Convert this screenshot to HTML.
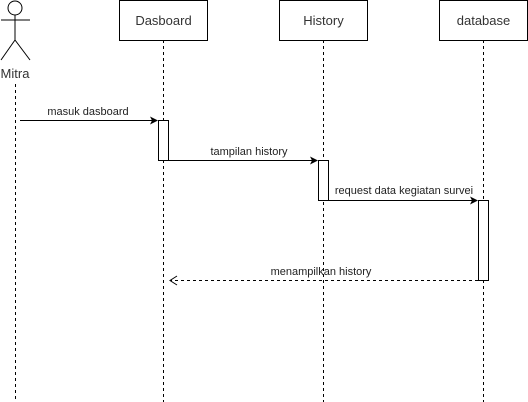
<!DOCTYPE html>
<html><head><style>body{margin:0;background:#fff}svg{display:block}</style></head><body>
<svg width="528" height="402" xmlns="http://www.w3.org/2000/svg" font-family="Liberation Sans, sans-serif">
<g stroke="#000" fill="none" stroke-width="1">
<circle cx="15" cy="8" r="7" fill="#fff"/>
<line x1="15" y1="15" x2="15" y2="40"/>
<line x1="1" y1="20" x2="30" y2="20"/>
<line x1="15" y1="40" x2="1" y2="60"/>
<line x1="15" y1="40" x2="30" y2="60"/>
</g>
<text x="15" y="78" font-size="13" text-anchor="middle" fill="#333">Mitra</text>
<g stroke="#000" stroke-dasharray="3,3">
<line x1="15.5" y1="84" x2="15.5" y2="402"/>
<line x1="163.5" y1="40" x2="163.5" y2="402"/>
<line x1="323.5" y1="40" x2="323.5" y2="402"/>
<line x1="483.5" y1="40" x2="483.5" y2="402"/>
</g>
<g stroke="#000" fill="#fff">
<rect x="119.5" y="0.5" width="88" height="40"/>
<rect x="279.5" y="0.5" width="88" height="40"/>
<rect x="439.5" y="0.5" width="88" height="40"/>
<rect x="158.5" y="120.5" width="10" height="40"/>
<rect x="318.5" y="160.5" width="10" height="40"/>
<rect x="478.5" y="200.5" width="10" height="80"/>
</g>
<g font-size="13" text-anchor="middle" fill="#333">
<text x="163.5" y="25">Dasboard</text>
<text x="323.5" y="25">History</text>
<text x="483.5" y="25">database</text>
</g>
<g stroke="#000">
<line x1="20" y1="120.5" x2="152" y2="120.5"/>
<line x1="168" y1="160.5" x2="312" y2="160.5"/>
<line x1="328" y1="200.5" x2="472" y2="200.5"/>
<line x1="478" y1="280.5" x2="171" y2="280.5" stroke-dasharray="3,3"/>
<polyline points="177,276 170,280.5 177,285" fill="none"/>
</g>
<g fill="#000">
<polygon points="158,120.5 150,116.5 152,120.5 150,124.5"/>
<polygon points="318,160.5 310,156.5 312,160.5 310,164.5"/>
<polygon points="478,200.5 470,196.5 472,200.5 470,204.5"/>
</g>
<g font-size="11" text-anchor="middle" fill="#222">
<text x="88" y="115">masuk dasboard</text>
<text x="249" y="155">tampilan history</text>
<text x="404" y="194">request data kegiatan survei</text>
<text x="321" y="275">menampilkan history</text>
</g>
</svg>
</body></html>
